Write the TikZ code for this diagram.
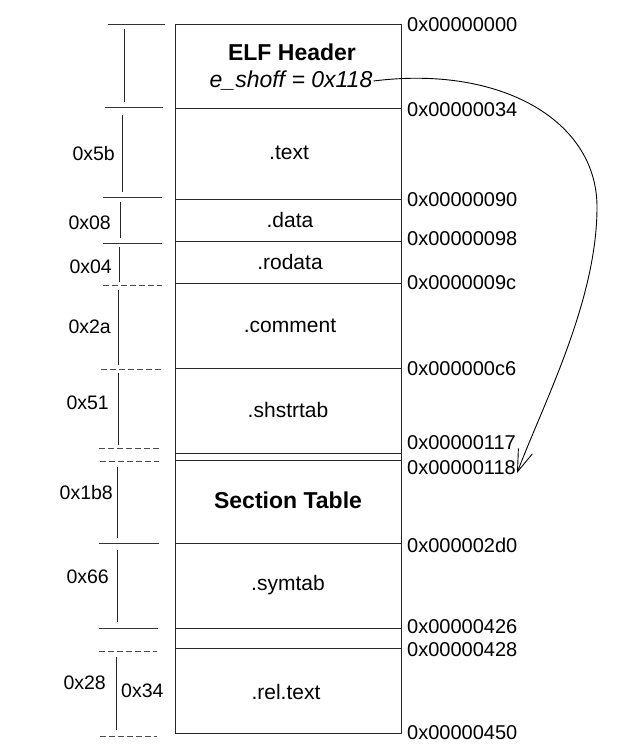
\documentclass[tikz,border=0pt]{standalone}
\usepackage{fontspec}
\setmainfont{Liberation Sans}
\usetikzlibrary{arrows.meta}
\begin{document}
\begin{tikzpicture}[x=1pt,y=-1pt,
  box/.style={line width=0.8pt,draw=black!85},
  tick/.style={line width=0.8pt,draw=black!80},
  dtick/.style={line width=0.8pt,draw=black!70,dash pattern=on 6pt off 3pt},
  dim/.style={line width=0.8pt,draw=black!85},
  sec/.style={font=\fontsize{21}{24}\selectfont,inner sep=0pt},
  secb/.style={font=\fontsize{23}{26}\selectfont\bfseries,inner sep=0pt},
  seci/.style={font=\fontsize{23}{26}\selectfont\itshape,inner sep=1pt},
  addr/.style={font=\fontsize{20}{22}\selectfont,anchor=west,inner sep=0pt},
  size/.style={font=\fontsize{19.5}{22}\selectfont,anchor=east,inner sep=0pt},
  ptr/.style={line width=0.9pt,-{Straight Barb[length=22pt,width=15pt,line width=0.9pt]}}]
\useasboundingbox (0,0) rectangle (616,754);
% main box
\draw[box] (175,24) rectangle (401,733);
\foreach \yy in {108,199,241,283,368,453,460,543,628,648}
  \draw[box] (175,\yy) -- (401,\yy);
% section texts
\node[secb] (elf) at (292,52) {ELF Header};
\node[seci] (eshoff) at (291,81) {e\_shoff = 0x118};
\node[sec] (text) at (289,153) {.text};
\node[sec] (data) at (290,220) {.data};
\node[sec] (rodata) at (290,262) {.rodata};
\node[sec] (comment) at (290,326) {.comment};
\node[sec] (shstrtab) at (288,410) {.shstrtab};
\node[secb] (sectab) at (288,500) {Section Table};
\node[sec] (symtab) at (288,585) {.symtab};
\node[sec] (reltext) at (286,692) {.rel.text};
% addresses
\node[addr] (a0) at (407,25) {0x00000000};
\node[addr] (a34) at (407,110) {0x00000034};
\node[addr] (a90) at (407,200) {0x00000090};
\node[addr] (a98) at (407,239) {0x00000098};
\node[addr] (a9c) at (407,283) {0x0000009c};
\node[addr] (ac6) at (407,369) {0x000000c6};
\node[addr] (a117) at (407,443) {0x00000117};
\node[addr] (a118) at (407,468) {0x00000118};
\node[addr] (a2d0) at (407,545) {0x000002d0};
\node[addr] (a426) at (407,627) {0x00000426};
\node[addr] (a428) at (407,650) {0x00000428};
\node[addr] (a450) at (407,733) {0x00000450};
% left ticks
\draw[tick] (108,24) -- (165,24);
\draw[tick] (105,107) -- (163,107);
\draw[tick] (103,197) -- (162,197);
\draw[tick] (103,243) -- (162,243);
\draw[dtick] (103,285) -- (162,285);
\draw[dtick] (101,369) -- (161,369);
\draw[dtick] (99,448) -- (159,448);
\draw[dtick] (100,461) -- (159,461);
\draw[tick] (99,543) -- (159,543);
\draw[tick] (99,628) -- (158,628);
\draw[dtick] (99,651) -- (157,651);
\draw[dtick] (100,736) -- (157,736);
% left verticals
\draw[dim] (124,29) -- (124,102);
\draw[dim] (122,115) -- (122,192);
\draw[dim] (120,202) -- (120,238);
\draw[dim] (119,247) -- (119,282);
\draw[dim] (118,290) -- (118,365);
\draw[dim] (118,373) -- (118,445);
\draw[dim] (117,467) -- (117,538);
\draw[dim] (117,550) -- (117,622);
\draw[dim] (116,657) -- (116,730);
% sizes
\node[size] (s5b) at (115,154) {0x5b};
\node[size] (s08) at (111,223) {0x08};
\node[size] (s04) at (112,267) {0x04};
\node[size] (s2a) at (111,327) {0x2a};
\node[size] (s51) at (109,403) {0x51};
\node[size] (s1b8) at (113,493) {0x1b8};
\node[size] (s66) at (109,577) {0x66};
\node[size] (s28) at (106,683) {0x28};
\node[size,anchor=west] (s34) at (121,691) {0x34};
% pointer arrow
\coordinate (tip) at (517,473);
\draw[ptr] (eshoff.east) .. controls (500,65) and (597,120) .. (597,207)
  .. controls (597,300) and (545,400) .. (tip);
\end{tikzpicture}
\end{document}
